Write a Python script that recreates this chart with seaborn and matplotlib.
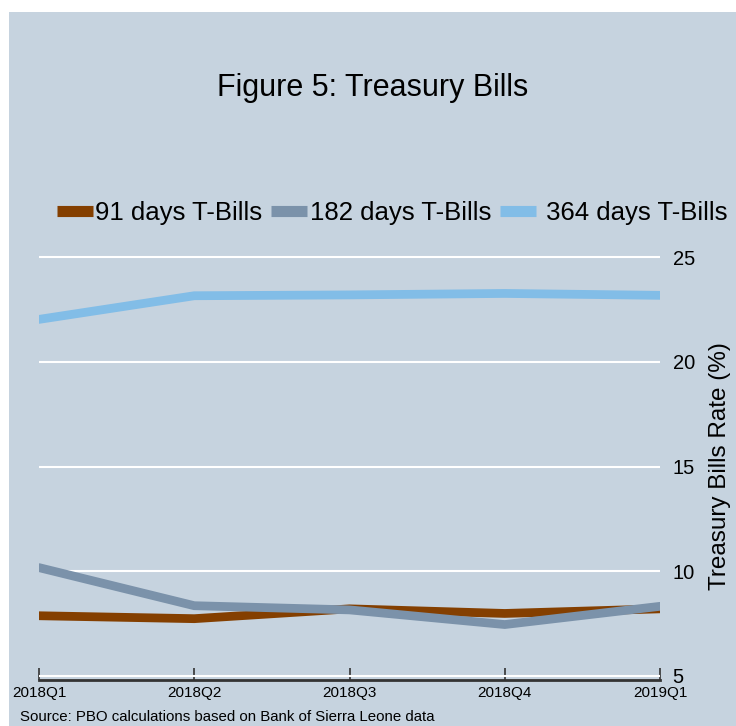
import numpy as np
import pandas as pd
import matplotlib
matplotlib.use("Agg")
import matplotlib.pyplot as plt
import seaborn as sns
from matplotlib.lines import Line2D
from matplotlib.patches import Rectangle


# data
quarters = ["2018Q1", "2018Q2", "2018Q3", "2018Q4", "2019Q1"]
tb_91 = [7.87, 7.73, 8.20, 7.98, 8.20]
tb_182 = [10.17, 8.35, 8.15, 7.45, 8.32]
tb_364 = [22.03, 23.16, 23.20, 23.27, 23.18]
series_names = ["91 days T-Bills", "182 days T-Bills", " 364 days T-Bills"]
y_ticks = [5, 10, 15, 20, 25]

bg = "#c6d3df"
colors = ["#843f00", "#7b92aa", "#82bde7"]

df = pd.DataFrame({
    "quarter": quarters * 3,
    "rate": tb_91 + tb_182 + tb_364,
    "series": np.repeat(series_names, len(quarters)),
})

sns.set_theme(style="white")
plt.rcParams["font.family"] = ["Liberation Sans", "DejaVu Sans"]
plt.rcParams["text.color"] = "black"
plt.rcParams["axes.labelcolor"] = "black"
plt.rcParams["xtick.color"] = "black"
plt.rcParams["ytick.color"] = "black"

fig = plt.figure(figsize=(7.36, 7.26), dpi=100, facecolor="white")
# panel background (white strip on top and left like the original export)
fig.patches.append(Rectangle((9 / 736, 0), 1, 1 - 12 / 726, transform=fig.transFigure,
                             facecolor=bg, edgecolor="none", zorder=-5))

ax = fig.add_axes([39 / 736, 1 - 680 / 726, (660 - 39) / 736, (680 - 252) / 726])
ax.set_facecolor(bg)

sns.lineplot(data=df, x="quarter", y="rate", hue="series", palette=colors,
             linewidth=6.3, legend=False, ax=ax, sort=False)
for ln in ax.lines:
    ln.set_solid_capstyle("round")
    ln.set_solid_joinstyle("miter")

ax.set_xlim(0, len(quarters) - 1)
ax.set_ylim(4.8, 25.25)
ax.set_yticks(y_ticks)
ax.yaxis.tick_right()
ax.yaxis.set_label_position("right")
ax.grid(axis="y", color="white", linewidth=1.5)
ax.set_axisbelow(True)
ax.tick_params(axis="y", length=0, pad=9, labelsize=14.5)
ax.tick_params(axis="x", bottom=True, direction="in", length=9, width=1.2, color="#333333",
               labelsize=11, pad=4)
ax.set_xlabel("")
ax.set_ylabel("Treasury Bills Rate (%)", fontsize=17.5, labelpad=10)
for s in ["top", "left", "right"]:
    ax.spines[s].set_visible(False)
ax.spines["bottom"].set_color("#333333")
ax.spines["bottom"].set_linewidth(2)

handles = [Line2D([0], [0], color=c, linewidth=8, solid_capstyle="butt") for c in colors]
fig.legend(handles, series_names, loc="center", bbox_to_anchor=(392 / 736, 1 - 213 / 726),
           ncol=3, frameon=False, fontsize=18.5, handlelength=1.4, handletextpad=0.1,
           columnspacing=0.35)

fig.text(373 / 736, 1 - 88 / 726, "Figure 5: Treasury Bills", ha="center", va="center",
         fontsize=22)
fig.text(20 / 736, 1 - 717 / 726, "Source: PBO calculations based on Bank of Sierra Leone data",
         ha="left", va="center", fontsize=10.8)

fig.savefig("out.png", dpi=100, facecolor="white")
